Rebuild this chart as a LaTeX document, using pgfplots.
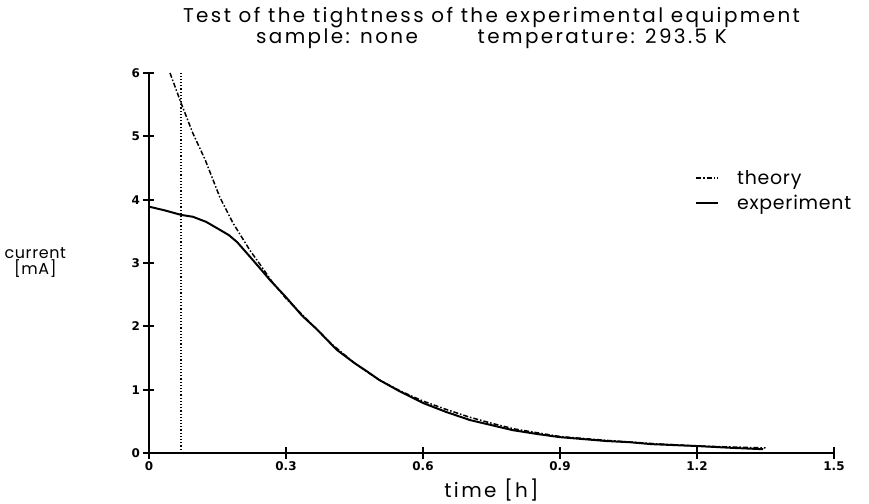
\documentclass[border=0pt]{standalone}
\usepackage{fontspec}
\setmainfont{Poppins}[LetterSpace=12]
\newfontfamily\plainfont{Poppins}[LetterSpace=4]
\newfontfamily\tickfont{DejaVu Sans}
\usepackage{pgfplots}
\pgfplotsset{compat=1.18}
\begin{document}
\begin{tikzpicture}
\begin{axis}[
  scale only axis,
  width=685bp, height=380bp,
  xmin=0, xmax=1.5, ymin=0, ymax=6,
  axis x line*=bottom, axis y line*=left,
  axis line style={line width=2.4pt},
  xtick={0,0.3,0.6,0.9,1.2,1.5},
  xticklabels={0,0.3,0.6,0.9,1.2,1.5},
  ytick={0,1,2,3,4,5,6},
  tick align=center,
  major tick length=11bp,
  every tick/.style={black, line width=1.8pt},
  tick label style={font=\tickfont\bfseries\fontsize{12}{12}\selectfont},
  /pgf/number format/assume math mode=true,
  clip=false,
  title={Test of the tightness of the experimental equipment\\sample: none\hspace{3em}temperature: 293.5 K},
  title style={align=center, font=\fontsize{20}{21}\selectfont, at={(axis description cs:0.5,1)}, anchor=south, yshift=15bp},
  xlabel={time [h]},
  xlabel style={font=\fontsize{20}{20}\selectfont, at={(axis description cs:0.5,0)}, anchor=center, yshift=-37bp},
  ylabel={current\\{[mA]}},
  ylabel style={font=\plainfont\fontsize{16}{15}\selectfont, align=center, rotate=-90, at={(axis description cs:-0.166,0.5)}, anchor=center},
  legend style={at={(axis description cs:0.797,0.75)}, anchor=north west, draw=none, fill=none,
    font=\plainfont\fontsize{19}{20}\selectfont, row sep=5bp, inner sep=0pt,
    /tikz/every odd column/.append style={column sep=16bp}},
  legend cell align=left,
  legend image code/.code={\draw[#1] (0bp,0bp) -- (22bp,0bp);},
]
\addplot[black, line width=1.5pt, dash pattern=on 5pt off 2pt on 1.5pt off 2pt] coordinates {
(0.046,6.0) (0.070,5.53) (0.096,5.05) (0.123,4.63) (0.155,4.04) (0.184,3.63)
(0.221,3.20) (0.236,3.05) (0.27,2.70) (0.30,2.44) (0.35,2.08) (0.40,1.72)
(0.45,1.42) (0.50,1.17) (0.55,0.98) (0.60,0.82) (0.65,0.69) (0.70,0.57)
(0.75,0.47) (0.80,0.38) (0.85,0.32) (0.90,0.26) (1.0,0.20) (1.1,0.15)
(1.2,0.11) (1.35,0.08)
};
\addlegendentry{theory}
\addplot[black, line width=2pt] coordinates {
(0,3.89) (0.035,3.83) (0.07,3.76) (0.096,3.73) (0.125,3.65) (0.149,3.55)
(0.175,3.44) (0.193,3.33) (0.221,3.10) (0.245,2.90) (0.265,2.73) (0.30,2.46)
(0.335,2.17) (0.368,1.95) (0.411,1.63) (0.45,1.42) (0.477,1.29) (0.505,1.15)
(0.55,0.97) (0.60,0.79) (0.65,0.65) (0.703,0.52) (0.75,0.44) (0.797,0.36)
(0.85,0.30) (0.90,0.25) (0.95,0.22) (1.0,0.19) (1.053,0.17) (1.1,0.14)
(1.2,0.11) (1.28,0.08) (1.345,0.06)
};
\addlegendentry{experiment}
\addplot[black, line width=1.2pt, dotted, forget plot] coordinates {(0.07,0) (0.07,6)};
\end{axis}
\pgfresetboundingbox
\path (current axis.south west) ++(-149bp,-51bp) rectangle ++(869bp,504bp);
\end{tikzpicture}
\end{document}
